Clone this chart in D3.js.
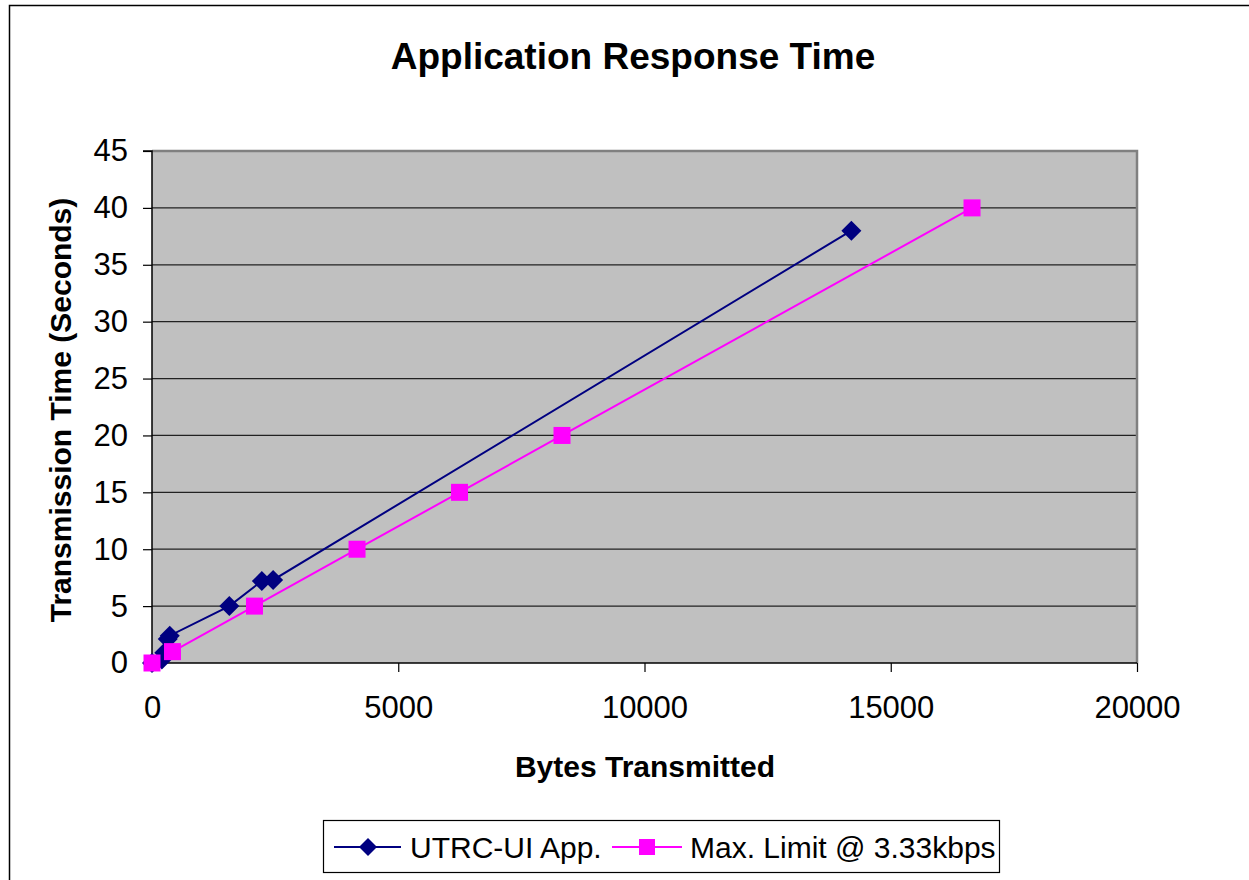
<!DOCTYPE html>
<html><head><meta charset="utf-8">
<script src="https://cdn.jsdelivr.net/npm/d3@7"></script>
<style>body{margin:0;background:#fff}svg{display:block}text{font-family:"Liberation Sans",Arial,sans-serif}</style>
</head><body>
<svg id="c" width="1249" height="880"></svg>
<script>
const title = "Application Response Time";
const xLabel = "Bytes Transmitted";
const yLabel = "Transmission Time (Seconds)";
const xTicks = [0, 5000, 10000, 15000, 20000];
const yTicks = [0, 5, 10, 15, 20, 25, 30, 35, 40, 45];
const seriesNames = ["UTRC-UI App.", "Max. Limit @ 3.33kbps"];
const appBytes = [0, 200, 250, 320, 360, 1570, 2230, 2460, 14200];
const appTime  = [0, 0.3, 0.9, 2.1, 2.4, 5.0, 7.2, 7.3, 38.0];
const limBytes = [0, 416, 2081, 4163, 6244, 8325, 16650];
const limTime  = [0, 1, 5, 10, 15, 20, 40];
const colors = ["#000080", "#FF00FF"];

const svg = d3.select("#c");
const L = 152, R = 1137, T = 151, B = 663;
const x = d3.scaleLinear().domain([0, 20000]).range([L, R]);
const y = d3.scaleLinear().domain([0, 45]).range([B, T]);

// outer chart border
svg.append("rect").attr("x", 9.5).attr("y", 5.5).attr("width", 1300).attr("height", 1000)
  .attr("fill", "#fff").attr("stroke", "#000").attr("stroke-width", 1.5);

// plot area
svg.append("rect").attr("x", L).attr("y", T).attr("width", R - L).attr("height", B - T)
  .attr("fill", "#C0C0C0");
svg.append("g").selectAll("line").data(yTicks.filter(d => d > 0 && d < 45)).join("line")
  .attr("x1", L).attr("x2", R).attr("y1", d => y(d)).attr("y2", d => y(d))
  .attr("stroke", "#222").attr("stroke-width", 1.2);
svg.append("path").attr("d", `M${L},${T}H${R}V${B}`).attr("fill", "none")
  .attr("stroke", "#808080").attr("stroke-width", 2.5);

// axes
const yAxis = d3.axisLeft(y).tickValues(yTicks).tickSize(9).tickPadding(15);
const gy = svg.append("g").attr("transform", `translate(${L},0)`).call(yAxis);
const xAxis = d3.axisBottom(x).tickValues(xTicks).tickSize(9).tickPadding(24).tickFormat(d3.format("d"));
const gx = svg.append("g").attr("transform", `translate(0,${B})`).call(xAxis);
[gx, gy].forEach(g => {
  g.attr("font-size", null).attr("font-family", null);
  g.select(".domain").attr("stroke", "#000").attr("stroke-width", 1.5);
  g.selectAll(".tick line").attr("stroke", "#000").attr("stroke-width", 1.2);
  g.selectAll("text").style("font-size", "31px").attr("fill", "#000");
});
gy.select(".domain").attr("d", `M-9,${T}H0V${B}H-9`);
gx.select(".domain").attr("d", `M${L},0H${R}`);

// lines
const line = d3.line().x(d => x(d[0])).y(d => y(d[1]));
const appData = appBytes.map((b, i) => [b, appTime[i]]);
const limData = limBytes.map((b, i) => [b, limTime[i]]);
svg.append("path").datum(appData).attr("d", line).attr("fill", "none")
  .attr("stroke", colors[0]).attr("stroke-width", 2);
svg.append("path").datum(limData).attr("d", line).attr("fill", "none")
  .attr("stroke", colors[1]).attr("stroke-width", 2);
svg.append("g").selectAll("path").data(appData).join("path")
  .attr("transform", d => `translate(${x(d[0])},${y(d[1])})`)
  .attr("d", "M0,-10L10,0L0,10L-10,0Z").attr("fill", colors[0]);
svg.append("g").selectAll("rect").data(limData).join("rect")
  .attr("x", d => x(d[0]) - 8.5).attr("y", d => y(d[1]) - 8.5).attr("width", 17).attr("height", 17)
  .attr("fill", colors[1]);

// titles
svg.append("text").attr("x", 633).attr("y", 69).attr("text-anchor", "middle")
  .style("font-size", "37px").attr("font-weight", "bold").text(title);
svg.append("text").attr("x", 645).attr("y", 777).attr("text-anchor", "middle")
  .style("font-size", "30px").attr("font-weight", "bold").text(xLabel);
svg.append("text").attr("transform", "translate(71,410) rotate(-90)").attr("text-anchor", "middle")
  .style("font-size", "30px").attr("font-weight", "bold").text(yLabel);

// legend
const lg = svg.append("g");
lg.append("rect").attr("x", 323.5).attr("y", 820.5).attr("width", 676).attr("height", 52)
  .attr("fill", "#fff").attr("stroke", "#000").attr("stroke-width", 1.2);
const ly = 847;
lg.append("line").attr("x1", 334).attr("x2", 401).attr("y1", ly).attr("y2", ly).attr("stroke", colors[0]).attr("stroke-width", 2);
lg.append("path").attr("transform", `translate(368,${ly})`).attr("d", "M0,-9L9,0L0,9L-9,0Z").attr("fill", colors[0]);
lg.append("text").attr("x", 410).attr("y", ly + 11).style("font-size", "30px").text(seriesNames[0]);
lg.append("line").attr("x1", 612).attr("x2", 682).attr("y1", ly).attr("y2", ly).attr("stroke", colors[1]).attr("stroke-width", 2);
lg.append("rect").attr("x", 639).attr("y", ly - 8).attr("width", 16).attr("height", 16).attr("fill", colors[1]);
lg.append("text").attr("x", 690).attr("y", ly + 11).style("font-size", "30px").text(seriesNames[1]);
</script>
</body></html>
